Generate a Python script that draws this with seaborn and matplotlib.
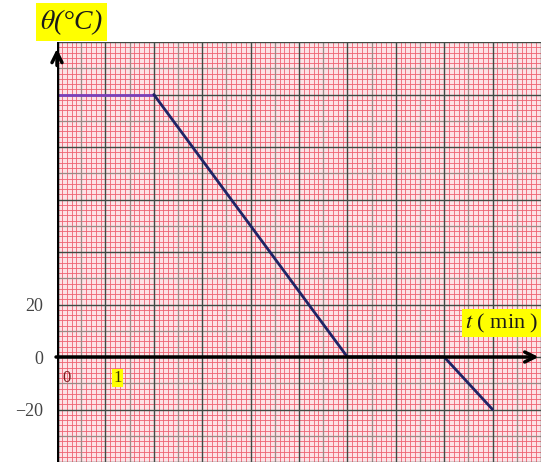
import numpy as np
import pandas as pd
import matplotlib
matplotlib.use("Agg")
import matplotlib.pyplot as plt
import seaborn as sns

# Data
plateau_t = [0, 2]
plateau_theta = [100, 100]
cooling_t = [2, 6, 8, 9]
cooling_theta = [100, 0, 0, -20]
ytick_values = [-20, 0, 20]
ytick_labels = ["\u221220", "0", "20"]

sns.set_theme(style="white")
plt.rcParams['font.family'] = ['Liberation Serif', 'DejaVu Serif']
plt.rcParams['mathtext.fontset'] = 'stix'

fig = plt.figure(figsize=(5.41, 4.67), dpi=100)
ax = fig.add_axes([57/541, 1 - 462/467, 1 - 57/541, (462 - 42)/467])
ax.set_xlim(0, 10)
ax.set_ylim(-40, 120)
ax.set_facecolor('#fde2e6')

# graph paper grid
for x in np.arange(0, 10.01, 0.1):
    k = int(round(x * 10))
    if k % 10 == 0:
        ax.axvline(x, color='#3f4a44', lw=1.0, zorder=1)
    elif k % 5 == 0:
        ax.axvline(x, color='#9a8a86', lw=0.9, zorder=0.9)
    else:
        ax.axvline(x, color='#ee6272', lw=0.6, zorder=0.8)
for y in np.arange(-40, 120.01, 2):
    k = int(round(y))
    if k % 20 == 0:
        ax.axhline(y, color='#3f4a44', lw=1.0, zorder=1)
    elif k % 10 == 0:
        ax.axhline(y, color='#9a8a86', lw=0.9, zorder=0.9)
    else:
        ax.axhline(y, color='#ee6272', lw=0.6, zorder=0.8)

df1 = pd.DataFrame({"t": plateau_t, "theta": plateau_theta})
df2 = pd.DataFrame({"t": cooling_t, "theta": cooling_theta})
sns.lineplot(data=df1, x="t", y="theta", ax=ax, color='#7a3fb8', lw=2, zorder=5)
sns.lineplot(data=df2, x="t", y="theta", ax=ax, color='#1f2466', lw=2, zorder=5)

# axes with arrows
ax.axvline(0, color='black', lw=2.5, zorder=6)
ax.annotate('', xy=(0, 118.5), xytext=(0, 110), xycoords='data',
            arrowprops=dict(arrowstyle='->', color='black', lw=2.5, mutation_scale=18),
            zorder=7, annotation_clip=False)
ax.annotate('', xy=(9.95, 0), xytext=(-0.02, 0), xycoords='data',
            arrowprops=dict(arrowstyle='->', color='black', lw=2.5, mutation_scale=18, shrinkA=0, shrinkB=0),
            zorder=7, annotation_clip=False)

for s in ax.spines.values():
    s.set_visible(False)
ax.set_xticks([])
ax.set_yticks(ytick_values)
ax.set_yticklabels(ytick_labels, color='#444444', fontsize=13)
ax.tick_params(axis='y', length=0, pad=10)
ax.set_xlabel('')
ax.set_ylabel('')

# inner labels
ax.text(0.2, -8, '0', color='#7a1a1a', fontsize=12, ha='center', va='center', zorder=8)
ax.text(1.25, -8, '1', color='#333300', fontsize=12, ha='center', va='center', zorder=8,
        bbox=dict(boxstyle='square,pad=0.05', fc='#ffff00', ec='none'))

# axis titles with yellow background
fig.text(40/541, 1 - 22/467, r'$\theta$(°C)', fontsize=20, color='#1a1a1a', ha='left', va='center',
         style='italic', bbox=dict(boxstyle='square,pad=0.15', fc='#ffff00', ec='none'))
fig.text(538/541, 1 - 323/467, r'$t$ ( min )', fontsize=16, color='#1a1a1a', ha='right', va='center', zorder=8,
         bbox=dict(boxstyle='square,pad=0.12', fc='#ffff00', ec='none'))

fig.savefig('out.png', dpi=100)
